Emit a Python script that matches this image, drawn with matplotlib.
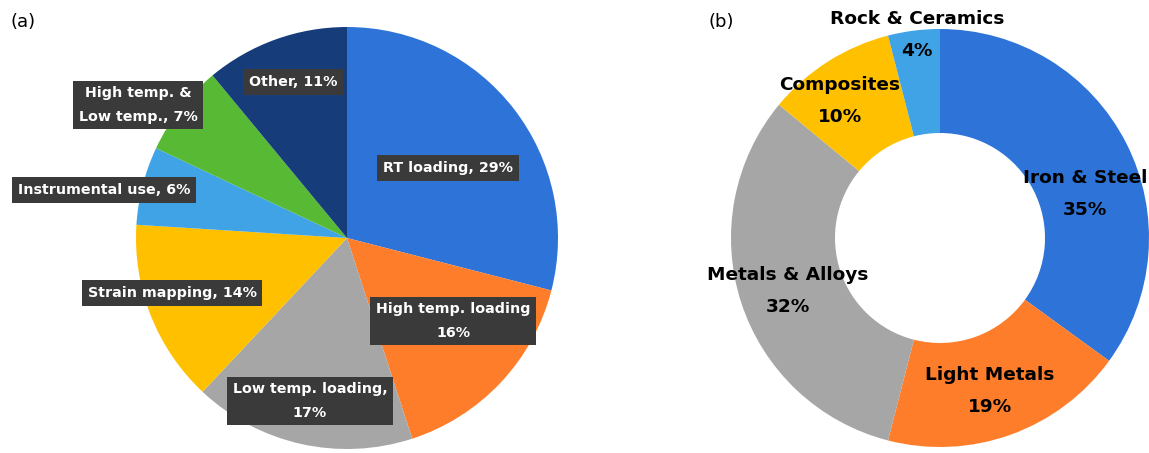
import numpy as np
import matplotlib.pyplot as plt

# (a) pie: usage categories, clockwise from top
usage_labels = ['RT loading, 29%', 'High temp. loading\n16%', 'Low temp. loading,\n17%',
                'Strain mapping, 14%', 'Instrumental use, 6%', 'High temp. &\nLow temp., 7%',
                'Other, 11%']
usage_vals = [29, 16, 17, 14, 6, 7, 11]
usage_colors = ['#2e74d8', '#fd7d2b', '#a6a6a6', '#ffc000', '#3fa3e6', '#57b934', '#163d7a']

# (b) donut: material categories, clockwise from top
mat_labels = ['Iron & Steel\n35%', 'Light Metals\n19%', 'Metals & Alloys\n32%',
              'Composites\n10%', 'Rock & Ceramics\n4%']
mat_vals = [35, 19, 32, 10, 4]
mat_colors = ['#2e74d8', '#fd7d2b', '#a6a6a6', '#ffc000', '#3fa3e6']

W, H = 1149, 453
fig = plt.figure(figsize=(W / 100, H / 100), dpi=100)
ax = fig.add_axes([0, 0, 1, 1])

# left pie, centre at pixel (347, 238)
ax.pie(usage_vals, colors=usage_colors, startangle=90, counterclock=False,
       center=(347, H - 238), radius=211, frame=True)

# label positions in pixels (x, y from top)
usage_pos = [(448, 168), (453, 321), (310, 401), (172, 293), (104, 190), (138, 105), (293, 82)]
for lab, (x, y) in zip(usage_labels, usage_pos):
    ax.text(x, H - y, lab, ha='center', va='center', color='white', fontsize=10.3,
            fontweight='bold', linespacing=1.85,
            bbox=dict(boxstyle='square,pad=0.4', fc='#3a3a3a', ec='none'))

# right donut, centre at pixel (940, 238)
ax.pie(mat_vals, colors=mat_colors, startangle=90, counterclock=False,
       center=(940, H - 238), radius=209, frame=True,
       wedgeprops=dict(width=104))

mat_pos = [(1085, 194), (990, 391), (788, 291), (840, 101), (917, 35)]
for lab, (x, y) in zip(mat_labels, mat_pos):
    ax.text(x, H - y, lab, ha='center', va='center', color='black', fontsize=13.3,
            fontweight='bold', linespacing=2.0)

ax.set_xlim(0, W)
ax.set_ylim(0, H)
ax.set_aspect('equal')
ax.axis('off')

ax.text(10, H - 22, '(a)', fontsize=13, va='center')
ax.text(708, H - 22, '(b)', fontsize=13, va='center')

fig.savefig('out.png', dpi=100)
